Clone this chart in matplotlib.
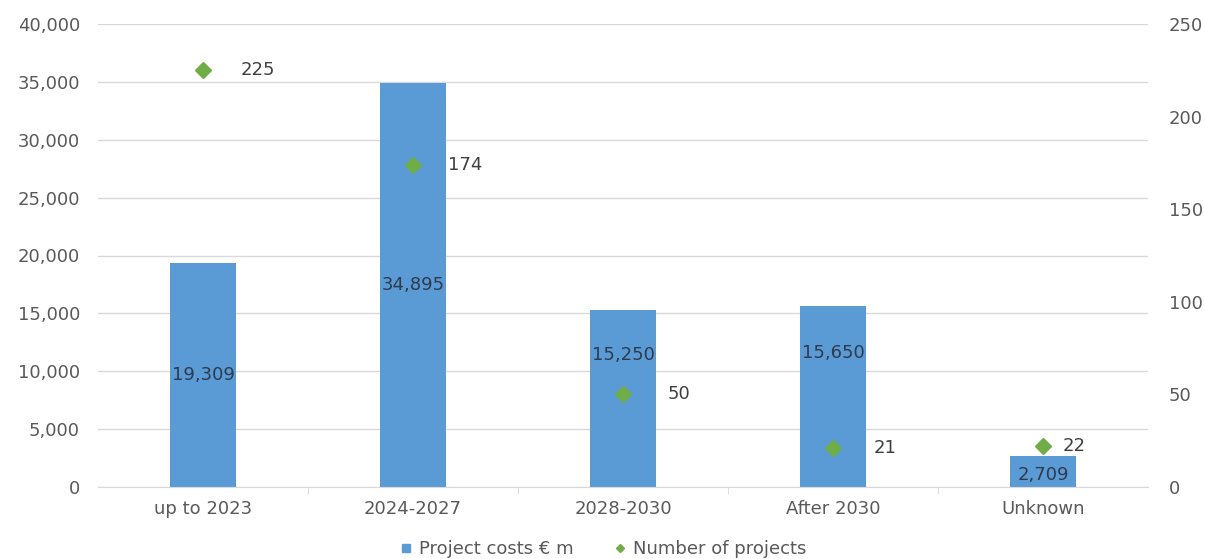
import matplotlib
matplotlib.use("Agg")
import matplotlib.pyplot as plt
from matplotlib.lines import Line2D
from matplotlib.ticker import FuncFormatter

plt.rcParams["font.family"] = ["DejaVu Sans"]
FS = 13

categories = ["up to 2023", "2024-2027", "2028-2030", "After 2030", "Unknown"]
costs = [19309, 34895, 15250, 15650, 2709]
projects = [225, 174, 50, 21, 22]

BAR = "#5B9BD5"
GREEN = "#70AD47"
TXT = "#595959"
LBL = "#2E3B4E"
GRID = "#D9D9D9"

W, H = 1205, 559
fig = plt.figure(figsize=(W / 100, H / 100), dpi=100)
ax = fig.add_axes([98 / W, 1 - 487 / H, 1050 / W, 463 / H])
ax2 = ax.twinx()

x = list(range(len(categories)))
ax.bar(x, costs, width=0.315, color=BAR, zorder=2)
ax.set_xlim(-0.5, len(categories) - 0.5)
ax.set_ylim(0, 40000)
ax.set_yticks(range(0, 40001, 5000))
ax.yaxis.set_major_formatter(FuncFormatter(lambda v, p: f"{int(v):,}"))
ax.grid(axis="y", color=GRID, linewidth=1, zorder=0)
ax.set_axisbelow(True)
ax.set_xticks(x)
ax.set_xticklabels(categories)
ax.set_xticks([i + 0.5 for i in x[:-1]], minor=True)
ax.tick_params(axis="x", which="major", length=0, pad=9, labelsize=FS, labelcolor=TXT)
ax.tick_params(axis="x", which="minor", length=5, color=GRID)
ax.tick_params(axis="y", length=0, pad=13, labelsize=FS, labelcolor=TXT)
for s in ["top", "right", "left"]:
    ax.spines[s].set_visible(False)
ax.spines["bottom"].set_color(GRID)

label_frac = [0.5, 0.5, 0.75, 0.74, 0.38]
for xi, v, f in zip(x, costs, label_frac):
    ax.text(xi, v * f, f"{v:,}", ha="center", va="center", fontsize=FS, color=LBL, zorder=3)

ax2.plot(x, projects, linestyle="none", marker="D", markersize=8, color=GREEN, zorder=4)
ax2.set_ylim(0, 250)
ax2.set_yticks(range(0, 251, 50))
ax2.tick_params(axis="y", length=0, pad=15, labelsize=FS, labelcolor=TXT)
for s in ["top", "right", "left", "bottom"]:
    ax2.spines[s].set_visible(False)

offsets = [27, 25, 32, 29, 14]
for xi, v, o in zip(x, projects, offsets):
    ax2.annotate(str(v), (xi, v), xytext=(o, 0), textcoords="offset points",
                 ha="left", va="center", fontsize=FS, color="#404040")

handles = [
    Line2D([], [], linestyle="none", marker="s", markersize=6, color=BAR, label="Project costs € m"),
    Line2D([], [], linestyle="none", marker="D", markersize=4, color=GREEN, label="Number of projects"),
]
fig.legend(handles=handles, loc="center", bbox_to_anchor=(0.5, 1 - 549 / H), ncol=2,
           frameon=False, fontsize=FS, labelcolor=TXT, handletextpad=0.3,
           columnspacing=2.2, handlelength=0.8)

fig.savefig("out.png", dpi=100, facecolor="white")
